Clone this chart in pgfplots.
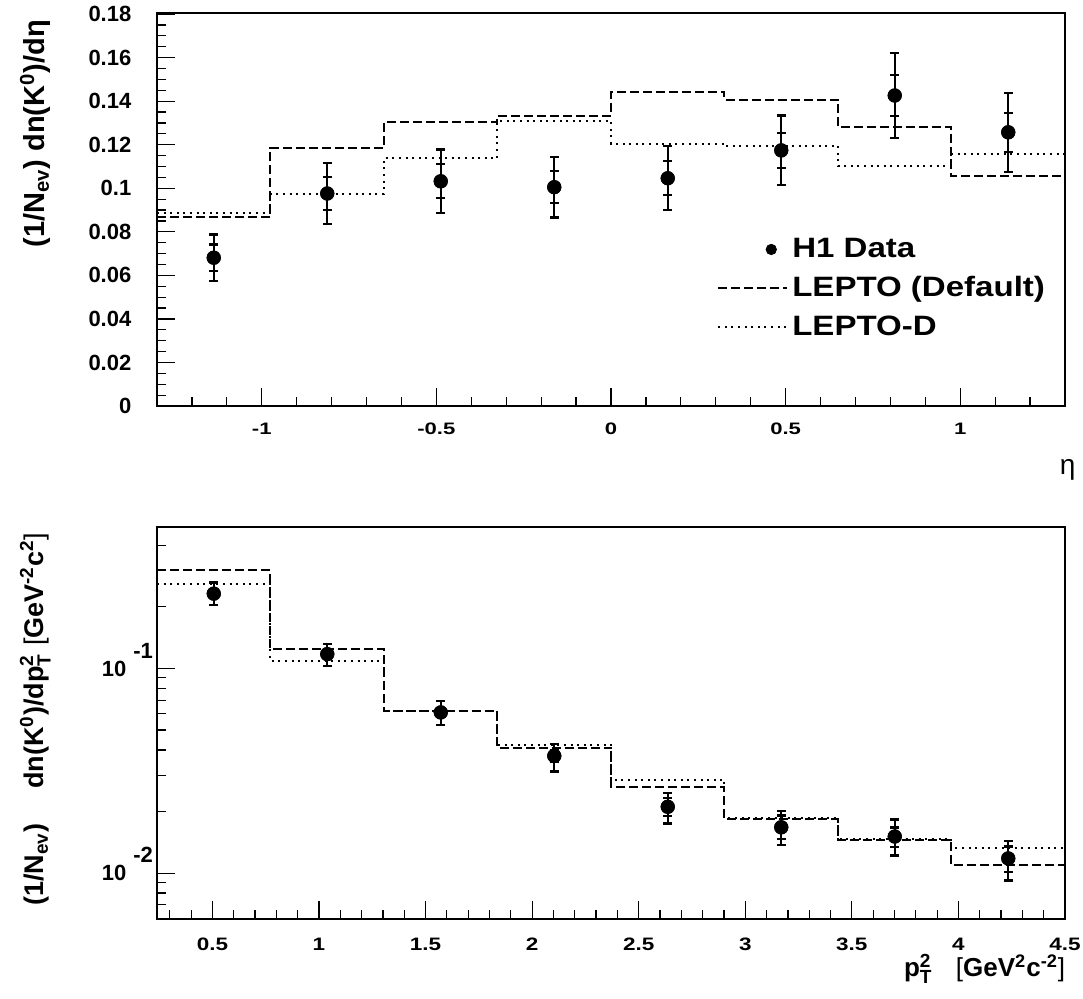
\documentclass[border=0pt]{standalone}
\usepackage{fontspec}
\setmainfont{Liberation Sans}
\newfontfamily\xtickA{Liberation Sans}[FakeStretch=1.33]
\newfontfamily\xtickB{Liberation Sans}[FakeStretch=1.25]
\newfontfamily\legfont{Liberation Sans}[FakeStretch=1.18]
\usepackage{pgfplots}
\pgfplotsset{compat=1.18}
\usepackage{pgfplotstable}
\newcommand\scr[1]{\mbox{\bfseries\fontsize{9.5}{10}\selectfont #1}}
\newcommand\ptsq{p$^{\scr{2}}_{\scr{T}}$}

% top panel data: x y tot stat
\pgfplotstableread{
x y tot stat
-1.1375 0.0681 0.0107 0.0061
-0.8125 0.0976 0.0140 0.0075
-0.4875 0.1032 0.0146 0.0078
-0.1625 0.1005 0.0139 0.0074
0.1625 0.1046 0.0147 0.0078
0.4875 0.1174 0.0160 0.0080
0.8125 0.1426 0.0195 0.0094
1.1375 0.1257 0.0182 0.0090
}\etadata
\pgfplotstableread{
x y
-1.3 0.0869
-0.975 0.1185
-0.65 0.1304
-0.325 0.1334
0 0.1444
0.325 0.1406
0.65 0.1281
0.975 0.1055
1.3 0.1055
}\etalepto
\pgfplotstableread{
x y
-1.3 0.0886
-0.975 0.0974
-0.65 0.1139
-0.325 0.1310
0 0.1205
0.325 0.1196
0.65 0.1101
0.975 0.1156
1.3 0.1156
}\etaleptod
% bottom panel data: x y totp totm statp statm
\pgfplotstableread{
x y totp totm statp statm
0.5063 0.232 0.031 0.027 0.012 0.012
1.0388 0.1175 0.0145 0.0145 0.006 0.006
1.5713 0.0610 0.0082 0.0082 0.003 0.003
2.1038 0.0374 0.0054 0.0060 0.0025 0.0025
2.6363 0.0211 0.0036 0.0036 0.0022 0.0021
3.1688 0.01675 0.0033 0.0030 0.0024 0.0021
3.7013 0.0151 0.0032 0.0029 0.0016 0.0017
4.2338 0.0118 0.0025 0.0026 0.0017 0.0017
}\ptdata
\pgfplotstableread{
x y
0.24 0.3015
0.7725 0.124
1.305 0.0621
1.8375 0.0410
2.37 0.0263
2.9025 0.0184
3.435 0.0146
3.9675 0.0109
4.5 0.0109
}\ptlepto
\pgfplotstableread{
x y
0.24 0.258
0.7725 0.109
1.305 0.0617
1.8375 0.0424
2.37 0.0286
2.9025 0.0186
3.435 0.0147
3.9675 0.0132
4.5 0.0132
}\ptleptod

\pgfplotsset{
  rootstyle/.style={
    scale only axis, width=454pt,
    axis line style={line width=1.2pt},
    tick align=inside, tick pos=left,
    major tick length=9pt, minor tick length=4.5pt,
    every tick/.style={black, line width=0.6pt},
    yticklabel style={font=\bfseries\fontsize{11}{13}\selectfont},
    clip=false,
  },
  dashedhist/.style={const plot, black, line width=1pt, dash pattern=on 4.5pt off 2pt},
  dottedhist/.style={const plot, black, line width=1pt, dash pattern=on 1pt off 2.3pt},
  toterr/.style={black, line width=1.1pt, only marks, mark=*, mark size=3pt,
     error bars/y dir=both, error bars/y explicit,
     error bars/error mark=-,
     error bars/error bar style={line width=1.1pt},
     error bars/error mark options={rotate=90, mark size=2.2pt, line width=1.1pt}},
  histlegend/.style={legend image code/.code={\draw[##1] (0pt,0pt) -- (34.5pt,0pt);}},
  dotlegend/.style={legend image code/.code={\fill[black] (26.5pt,0pt) circle (2.6pt);}},
}

\begin{document}
\begin{tikzpicture}[x=1pt,y=1pt]
\useasboundingbox (0,0) rectangle (541.5,499);
\begin{axis}[rootstyle,
  at={(78.5pt,296pt)}, anchor=south west, height=196.5pt,
  xmin=-1.3, xmax=1.3, ymin=0, ymax=0.1805,
  xtick={-1,-0.5,0,0.5,1}, xticklabels={-1,-0.5,0,0.5,1},
  xticklabel style={font=\xtickA\bfseries\fontsize{8.3}{10}\selectfont, yshift=-5pt},
  minor xtick={-1.2,-1.1,-0.9,-0.8,-0.7,-0.6,-0.4,-0.3,-0.2,-0.1,0.1,0.2,0.3,0.4,0.6,0.7,0.8,0.9,1.1,1.2},
  ytick={0,0.02,0.04,0.06,0.08,0.1,0.12,0.14,0.16,0.18},
  yticklabels={0,0.02,0.04,0.06,0.08,0.1,0.12,0.14,0.16,0.18},
  yticklabel style={xshift=-9.3pt},
  minor ytick={0.005,0.01,0.015,0.025,0.03,0.035,0.045,0.05,0.055,0.065,0.07,0.075,0.085,0.09,0.095,0.105,0.11,0.115,0.125,0.13,0.135,0.145,0.15,0.155,0.165,0.17,0.175},
  ylabel={\bfseries\fontsize{14.5}{16}\selectfont (1/N\textsubscript{ev}) dn(K\textsuperscript{0})/dη},
  ylabel style={at={(axis description cs:-0.134,1)}, anchor=east},
  xlabel={\fontsize{14}{16}\selectfont η},
  xlabel style={at={(axis description cs:1.003,-0.163)}, anchor=center},
  legend style={draw=none, fill=none, at={(axis description cs:0.61,0.448)}, anchor=north west,
    font=\legfont\bfseries\fontsize{14}{16}\selectfont, row sep=4pt, cells={anchor=west}},
]
\addplot[dashedhist, forget plot] table {\etalepto};
\addplot[dottedhist, forget plot] table {\etaleptod};
\addplot[forget plot, toterr] table[x=x, y=y, y error=tot] {\etadata};
\addplot[forget plot, toterr] table[x=x, y=y, y error=stat] {\etadata};
\addlegendimage{dotlegend}
\addlegendentry{H1 Data}
\addlegendimage{black, line width=1pt, dash pattern=on 4.5pt off 2pt, histlegend}
\addlegendentry{LEPTO (Default)}
\addlegendimage{black, line width=1pt, dash pattern=on 1pt off 2.3pt, histlegend}
\addlegendentry{LEPTO-D}
\end{axis}

\begin{axis}[rootstyle,
  at={(78.5pt,39.5pt)}, anchor=south west, height=196pt,
  ymode=log,
  xmin=0.24, xmax=4.5, ymin=0.00597, ymax=0.491,
  xtick={0.5,1,1.5,2,2.5,3,3.5,4,4.5}, xticklabels={0.5,1,1.5,2,2.5,3,3.5,4,4.5},
  xticklabel style={font=\xtickB\bfseries\fontsize{9}{11}\selectfont, yshift=-6pt},
  minor xtick={0.3,0.4,0.6,0.7,0.8,0.9,1.1,1.2,1.3,1.4,1.6,1.7,1.8,1.9,2.1,2.2,2.3,2.4,2.6,2.7,2.8,2.9,3.1,3.2,3.3,3.4,3.6,3.7,3.8,3.9,4.1,4.2,4.3,4.4},
  ytick={0.01,0.1},
  yticklabels={{10\hspace{3.5pt}\smash{\raisebox{9pt}{-2}}},{10\hspace{3.5pt}\smash{\raisebox{9pt}{-1}}}},
  yticklabel style={xshift=1.5pt},
  minor ytick={0.006,0.007,0.008,0.009,0.02,0.03,0.04,0.05,0.06,0.07,0.08,0.09,0.2,0.3,0.4},
  ylabel={\bfseries\fontsize{13.5}{15}\selectfont (1/N\textsubscript{ev})\hspace{1.3em}dn(K\textsuperscript{0})/d\ptsq\ {\mdseries[}GeV\textsuperscript{-2}c\textsuperscript{2}{\mdseries]}},
  ylabel style={at={(axis description cs:-0.134,0.51)}, anchor=center},
  xlabel={\bfseries\fontsize{13}{15}\selectfont \ptsq\hspace{0.9em}{\mdseries[}GeV\textsuperscript{2}c\textsuperscript{-2}{\mdseries]}},
  xlabel style={at={(axis description cs:1.008,-0.128)}, anchor=east},
]
\addplot[dashedhist] table {\ptlepto};
\addplot[dottedhist] table {\ptleptod};
\addplot[toterr] table[x=x, y=y, y error plus=totp, y error minus=totm] {\ptdata};
\addplot[toterr] table[x=x, y=y, y error plus=statp, y error minus=statm] {\ptdata};
\end{axis}
\end{tikzpicture}
\end{document}
